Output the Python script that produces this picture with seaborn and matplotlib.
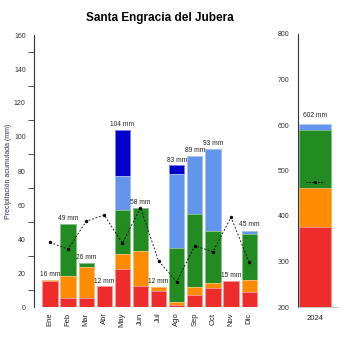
import numpy as np
import pandas as pd
import matplotlib
matplotlib.use("Agg")
import matplotlib.pyplot as plt
import seaborn as sns

sns.set_style("white")
plt.rcParams['font.family'] = ['Liberation Sans', 'DejaVu Sans']

months = ["Ene", "Feb", "Mar", "Abr", "May", "Jun", "Jul", "Ago", "Sep", "Oct", "Nov", "Dic"]
# stacked segments (mm)
seg_red = [15.3, 5.5, 5.5, 12.3, 22.3, 12.3, 9.4, 1.2, 7.0, 11.2, 15.3, 9.0]
seg_orange = [0.7, 12.7, 18.2, 0.0, 8.9, 20.7, 2.4, 1.7, 4.8, 2.7, 0.0, 6.9]
seg_green = [0.0, 30.8, 2.3, 0.0, 25.8, 25.0, 0.0, 32.0, 42.9, 30.8, 0.0, 27.0]
seg_lblue = [0.0, 0.0, 0.0, 0.0, 20.0, 0.0, 0.0, 43.1, 34.3, 48.3, 0.0, 2.1]
seg_dblue = [0.0, 0.0, 0.0, 0.0, 27.0, 0.0, 0.0, 5.3, 0.0, 0.0, 0.0, 0.0]
totals = [16, 49, 26, 12, 104, 58, 12, 83, 89, 93, 15, 45]
mean_line = [38.0, 34.1, 50.4, 54.1, 37.5, 58.4, 27.0, 14.9, 36.0, 32.5, 52.8, 26.3]

year_label = ["2024"]
year_red = [376]
year_orange = [85]
year_green = [129]
year_lblue = [12]
year_total = [602]
year_mean = [474]

colors = ["#EE2C2C", "#FF8C00", "#228B22", "#6495ED", "#0000CD"]
edge_colors = ["#f4a0a0", "#ffc680", "#90c590", "#b2caf6", "#8080e6"]

fig = plt.figure(figsize=(3.5, 3.5), dpi=100)
ax = fig.add_axes([34/350, 43/350, 226/350, 272/350])
ax2 = fig.add_axes([298/350, 43/350, 40/350, 273/350])

# monthly stacked bars, drawn from the top layer down
segs = [seg_red, seg_orange, seg_green, seg_lblue, seg_dblue]
cum = np.cumsum(np.array(segs), axis=0)
for i in range(len(segs) - 1, -1, -1):
    df = pd.DataFrame({"mes": months, "v": cum[i]})
    sns.barplot(data=df, x="mes", y="v", order=months, color=colors[i], saturation=1,
                width=0.84, edgecolor=edge_colors[i], linewidth=0.6, ax=ax, errorbar=None)

sns.pointplot(x=months, y=mean_line, order=months, color="black", ax=ax, errorbar=None,
              markers="o", linestyles=(0, (2.2, 2.2)), markersize=2, linewidth=0.6)

for i, t in enumerate(totals):
    ax.text(i, t + 1.2, f"{t} mm", ha="center", va="bottom", fontsize=4.8, color="#222222")

ax.set_xlim(-0.88, 11.6)
ax.set_ylim(0, 160)
ax.set_yticks(np.arange(0, 161, 20))
ax.set_yticks(np.arange(10, 160, 20), minor=True)
ax.tick_params(axis="y", which="major", length=4, width=0.6, labelsize=5, colors="#333333", pad=2)
ax.tick_params(axis="y", which="minor", length=4, width=0.6, colors="#333333", left=True)
ax.tick_params(axis="x", length=0, labelsize=5.5, labelrotation=90, pad=4, colors="#222222")
ax.set_xlabel("")
ax.set_ylabel("Precipitación acumulada (mm)", fontsize=5, color="#3a2a50")
ax.yaxis.set_label_coords(-0.098, 0.5)
for s in ["top", "right", "bottom"]:
    ax.spines[s].set_visible(False)
ax.spines["left"].set_color("#333333")
ax.spines["left"].set_linewidth(0.8)

# annual panel
ysegs = [year_red, year_orange, year_green, year_lblue]
ycum = np.cumsum(np.array(ysegs), axis=0)
for i in range(len(ysegs) - 1, -1, -1):
    df = pd.DataFrame({"a": year_label, "v": ycum[i]})
    sns.barplot(data=df, x="a", y="v", color=colors[i], saturation=1, width=0.8,
                edgecolor=edge_colors[i], linewidth=0.5, ax=ax2, errorbar=None)
sns.scatterplot(x=year_label, y=year_mean, color="black", s=5, ax=ax2, zorder=5, linewidth=0)
ax2.hlines(year_mean, -0.22, 0.22, colors="black", linestyles=(0, (2, 1.5)), linewidth=0.6, zorder=5)
ax2.text(0, year_total[0] + 12, f"{year_total[0]} mm", ha="center", va="bottom", fontsize=4.8, color="#222222")
ax2.set_xlim(-0.42, 0.58)
ax2.set_ylim(200, 800)
ax2.set_yticks(np.arange(200, 801, 100))
ax2.tick_params(axis="y", length=4, width=0.6, labelsize=5, colors="#333333", pad=2)
ax2.tick_params(axis="x", length=0, labelsize=5.5, pad=6, colors="#222222")
ax2.set_xlabel("")
ax2.set_ylabel("")
for s in ["top", "right"]:
    ax2.spines[s].set_visible(False)
ax2.spines["bottom"].set_color("#bbbbbb")
ax2.spines["bottom"].set_linewidth(0.6)
ax2.spines["left"].set_color("#333333")
ax2.spines["left"].set_linewidth(0.8)

fig.text(160/350, 1 - 18/350, "Santa Engracia del Jubera", ha="center", va="center",
         fontsize=8.5, fontweight="bold", color="black")

fig.savefig("out.png", dpi=100)
